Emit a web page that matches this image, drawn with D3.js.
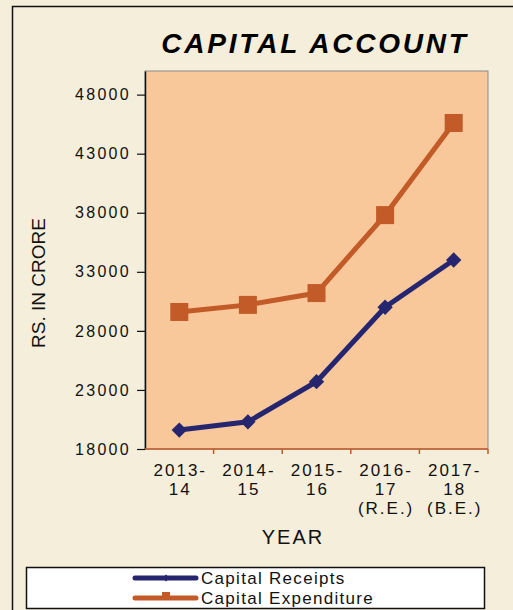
<!DOCTYPE html>
<html>
<head>
<meta charset="utf-8">
<script src="https://cdn.jsdelivr.net/npm/d3@7"></script>
<style>
  body { margin: 0; background: #f3ecd8; }
  svg { display: block; font-family: "Liberation Sans", Arial, sans-serif; }
</style>
</head>
<body>
<svg id="chart"></svg>
<script>
var width = 513, height = 610;

// data
var years = ["2013-|14", "2014-|15", "2015-|16", "2016-|17|(R.E.)", "2017-|18|(B.E.)"];
var receipts = [19600, 20300, 23700, 30000, 34000];
var expenditure = [29600, 30200, 31200, 37800, 45600];
var yTicks = [18000, 23000, 28000, 33000, 38000, 43000, 48000];

var plot = {left: 145, top: 71, right: 488, bottom: 449};

var svg = d3.select("#chart")
  .attr("width", width)
  .attr("height", height);

// page background + outer frame
svg.append("rect")
  .attr("x", 0).attr("y", 0)
  .attr("width", width).attr("height", height)
  .attr("fill", "#f4eedb");
svg.append("rect")
  .attr("x", 12.5).attr("y", 6.5)
  .attr("width", 520).attr("height", 620)
  .attr("fill", "none")
  .attr("stroke", "#111")
  .attr("stroke-width", 1.5);

svg.append("text")
  .attr("x", 315)
  .attr("y", 53)
  .attr("text-anchor", "middle")
  .style("font-size", "28px")
  .style("font-weight", "bold")
  .style("font-style", "italic")
  .style("letter-spacing", "2.8px")
  .text("CAPITAL ACCOUNT");

var x = d3.scaleBand()
  .domain(years)
  .range([plot.left, plot.right]);

var y = d3.scaleLinear()
  .domain([18000, 50000])
  .range([plot.bottom, plot.top]);

// plot area
svg.append("rect")
  .attr("x", plot.left).attr("y", plot.top)
  .attr("width", plot.right - plot.left)
  .attr("height", plot.bottom - plot.top)
  .attr("fill", "#f8c89b")
  .attr("stroke", "#8a8a8a")
  .attr("stroke-width", 1);

// y axis
var yAxis = d3.axisLeft(y)
  .tickValues(yTicks)
  .tickSize(8)
  .tickSizeOuter(0)
  .tickFormat(function(d) { return d; });
var gy = svg.append("g")
  .attr("transform", "translate(" + plot.left + ",0)")
  .call(yAxis)
  .attr("font-family", "Liberation Sans, Arial, sans-serif")
  .attr("font-size", 16);
gy.select(".domain").attr("stroke", "#111").attr("stroke-width", 1.5);
gy.selectAll(".tick line").attr("stroke", "#111").attr("stroke-width", 1.2);
gy.selectAll(".tick text")
  .attr("x", -14)
  .attr("fill", "#111")
  .style("letter-spacing", "2.3px");

// x axis, ticks at band edges
var gx = svg.append("g")
  .attr("transform", "translate(0," + plot.bottom + ")");
gx.append("line")
  .attr("x1", plot.left).attr("x2", plot.right)
  .attr("stroke", "#c25b27").attr("stroke-width", 1.5);
var edges = years.map(function(d) { return x(d); }).concat([x.range()[1]]);
gx.selectAll(".xt").data(edges.slice(1)).enter()
  .append("line")
  .attr("class", "xt")
  .attr("x1", function(d) { return d; })
  .attr("x2", function(d) { return d; })
  .attr("y1", 0).attr("y2", 5)
  .attr("stroke", "#c25b27").attr("stroke-width", 1.5);

var xl = gx.selectAll(".xl").data(years).enter()
  .append("text")
  .attr("class", "xl")
  .attr("text-anchor", "middle")
  .style("font-size", "17px")
  .style("letter-spacing", "2px")
  .attr("fill", "#111");
xl.each(function(d) {
  var t = d3.select(this);
  d.split("|").forEach(function(s, i) {
    t.append("tspan")
      .attr("x", x(d) + x.bandwidth() / 2 + 1)
      .attr("y", 27 + i * 19)
      .text(s);
  });
});

// axis titles
svg.append("text")
  .attr("transform", "translate(45,283) rotate(-90)")
  .attr("text-anchor", "middle")
  .style("font-size", "19px")
  .attr("fill", "#111")
  .text("RS. IN CRORE");

svg.append("text")
  .attr("x", 293)
  .attr("y", 544)
  .attr("text-anchor", "middle")
  .style("font-size", "20px")
  .style("letter-spacing", "2px")
  .attr("fill", "#111")
  .text("YEAR");

// lines
var cx = function(i) { return x(years[i]) + x.bandwidth() / 2; };
var line = d3.line()
  .x(function(d, i) { return cx(i); })
  .y(function(d) { return y(d); });

var navy = "#25266f", orange = "#c25b27";

svg.append("path")
  .datum(expenditure)
  .attr("d", line)
  .attr("fill", "none")
  .attr("stroke", orange)
  .attr("stroke-width", 5);
svg.selectAll(".sq").data(expenditure).enter()
  .append("rect")
  .attr("class", "sq")
  .attr("x", function(d, i) { return cx(i) - 9; })
  .attr("y", function(d) { return y(d) - 9; })
  .attr("width", 18).attr("height", 18)
  .attr("fill", orange);

svg.append("path")
  .datum(receipts)
  .attr("d", line)
  .attr("fill", "none")
  .attr("stroke", navy)
  .attr("stroke-width", 5);
svg.selectAll(".dm").data(receipts).enter()
  .append("path")
  .attr("class", "dm")
  .attr("d", d3.symbol().type(d3.symbolDiamond2).size(150))
  .attr("transform", function(d, i) { return "translate(" + cx(i) + "," + y(d) + ")"; })
  .attr("fill", navy);

// legend
var legend = svg.append("g");
legend.append("rect")
  .attr("x", 26.5).attr("y", 567.5)
  .attr("width", 458).attr("height", 41)
  .attr("fill", "#fff")
  .attr("stroke", "#111")
  .attr("stroke-width", 1.5);

var items = [
  {name: "Capital Receipts", color: navy, y: 578, mark: "d"},
  {name: "Capital Expenditure", color: orange, y: 598, mark: "s"}
];
var li = legend.selectAll(".li").data(items).enter().append("g");
li.append("line")
  .attr("x1", 135).attr("x2", 196)
  .attr("y1", function(d) { return d.y; })
  .attr("y2", function(d) { return d.y; })
  .attr("stroke", function(d) { return d.color; })
  .attr("stroke-width", 5)
  .attr("stroke-linecap", "round");
li.append("path")
  .attr("d", function(d) {
    return d.mark == "d" ? d3.symbol().type(d3.symbolDiamond2).size(30)() : "M-4,-6H4V0H-4Z";
  })
  .attr("transform", function(d) { return "translate(166," + d.y + ")"; })
  .attr("fill", function(d) { return d.color; });
li.append("text")
  .attr("x", 201)
  .attr("y", function(d) { return d.y + 6; })
  .style("font-size", "17px")
  .style("letter-spacing", "1.3px")
  .attr("fill", "#111")
  .text(function(d) { return d.name; });
</script>
</body>
</html>
